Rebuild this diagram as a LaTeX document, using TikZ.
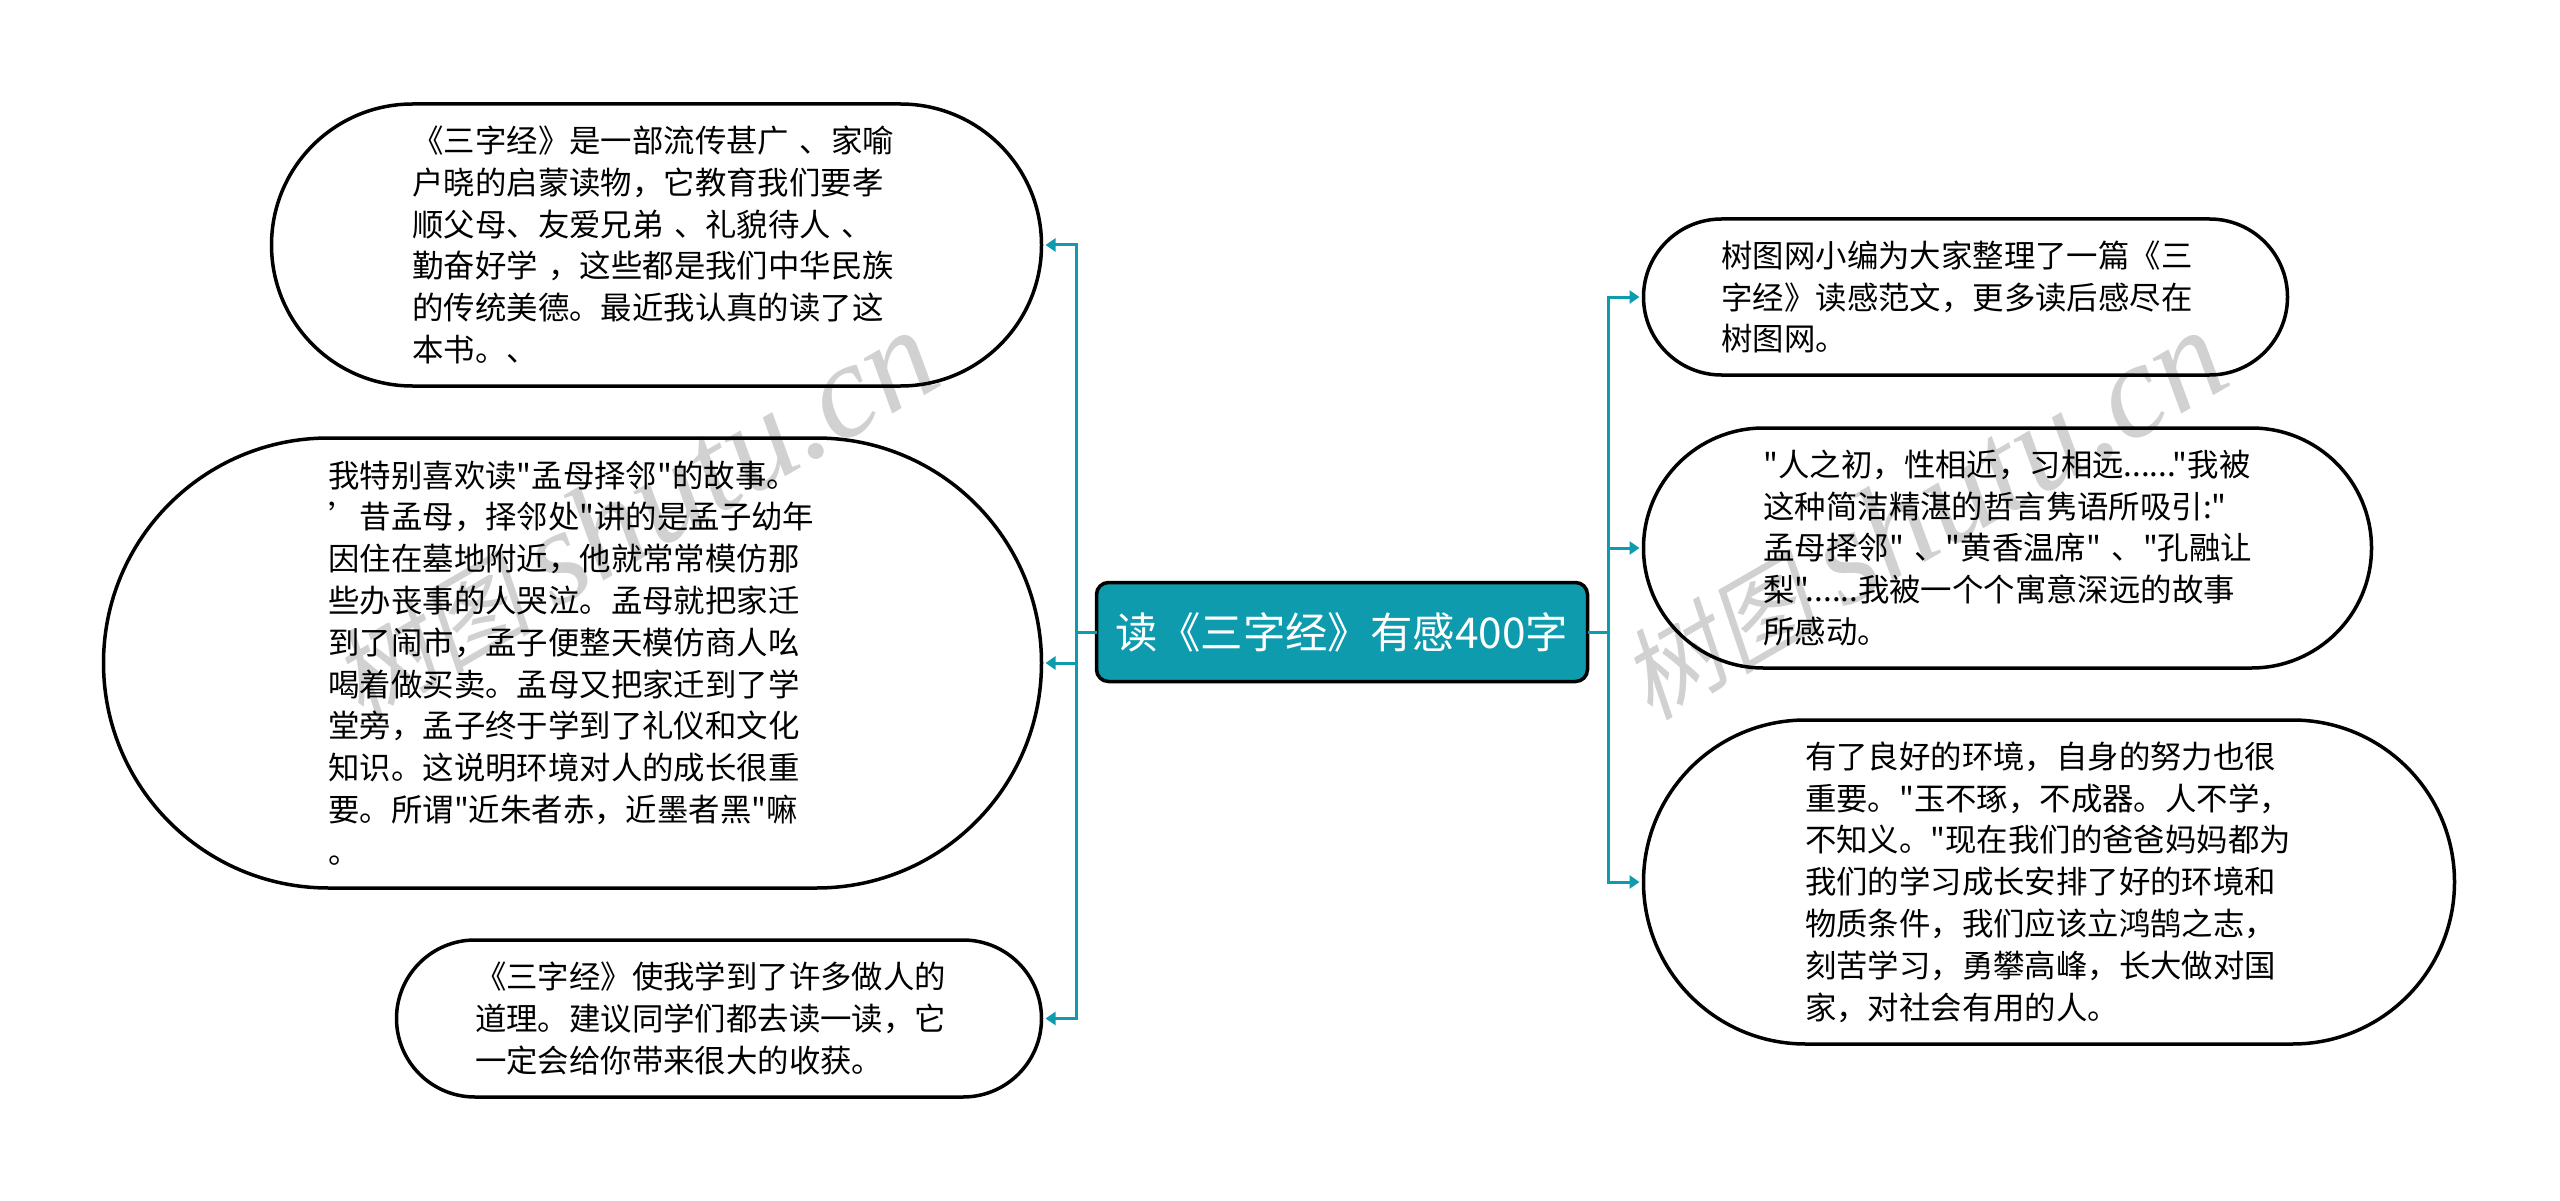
\documentclass[tikz,border=0pt]{standalone}
\usepackage{fontspec}
\setmainfont[Ligatures=TeXOff]{Noto Sans CJK SC}
\newfontfamily\markcjk[FakeSlant=0.2]{Noto Sans CJK SC}
\newfontfamily\marklatin[ItalicFont=Liberation Serif Italic]{Liberation Serif}
\usepackage{xcolor}
\usetikzlibrary{positioning}
\usetikzlibrary{arrows.meta}
\definecolor{teal1}{RGB}{14,155,173}
\begin{document}
\begin{tikzpicture}[>={Triangle[length=10pt,width=13pt]},
main/.style = {draw=black, fill=teal1, text=white, line width=3.5pt, rounded corners=12pt, minimum width=491pt, minimum height=99pt, inner sep=0pt, outer sep=0pt, font=\fontsize{42.4}{50}\selectfont},
leaf/.style = {draw=black, line width=3.5pt, minimum height=#1, rounded corners=#1/2, inner sep=0pt, outer sep=0pt, text width=488pt, align=left, font=\fontsize{31.4}{41.8}\selectfont},
twig/.style = {->, draw=teal1, line width=3pt, shorten >=4pt, to path={-- ++(#1,0) |- (\tikztotarget)}},
wmark/.style = {rotate=30, text=black, opacity=0.18, inner sep=0pt}]
\path[use as bounding box] (0,0) rectangle (2560pt,-1201pt);
\node[main] (root) at (1342pt,-632pt) {读《三字经》有感400字};
\node[leaf=282pt, minimum width=770pt] (l1) [left=55pt of root, yshift=387pt] {《三字经》是一部流传甚广~、家喻\\户晓的启蒙读物，它教育我们要孝\\顺父母、友爱兄弟~、礼貌待人~、\\勤奋好学~，这些都是我们中华民族\\的传统美德。最近我认真的读了这\\本书。、};
\node[leaf=450pt, minimum width=938pt] (l2) [left=55pt of root, yshift=-31pt] {我特别喜欢读"孟母择邻"的故事。\\’昔孟母，择邻处"讲的是孟子幼年\\因住在墓地附近，他就常常模仿那\\些办丧事的人哭泣。孟母就把家迁\\到了闹市，孟子便整天模仿商人吆\\喝着做买卖。孟母又把家迁到了学\\堂旁，孟子终于学到了礼仪和文化\\知识。这说明环境对人的成长很重\\要。所谓"近朱者赤，近墨者黑"嘛\\。};
\node[leaf=157pt, minimum width=645pt] (l3) [left=55pt of root, yshift=-386.5pt] {《三字经》使我学到了许多做人的\\道理。建议同学们都去读一读，它\\一定会给你带来很大的收获。};
\node[leaf=156pt, minimum width=644pt] (r1) [right=56pt of root, yshift=335pt] {树图网小编为大家整理了一篇《三\\字经》读感范文，更多读后感尽在\\树图网。};
\node[leaf=240pt, minimum width=728pt] (r2) [right=56pt of root, yshift=84pt] {"人之初，性相近，习相远......"我被\\这种简洁精湛的哲言隽语所吸引:"\\孟母择邻"~、"黄香温席"~、"孔融让\\梨"......我被一个个寓意深远的故事\\所感动。};
\node[leaf=324pt, minimum width=811pt] (r3) [right=56pt of root, yshift=-250pt] {有了良好的环境，自身的努力也很\\重要。"玉不琢，不成器。人不学，\\不知义。"现在我们的爸爸妈妈都为\\我们的学习成长安排了好的环境和\\物质条件，我们应该立鸿鹄之志，\\刻苦学习，勇攀高峰，长大做对国\\家，对社会有用的人。};
\path (root.west) edge [twig=-20pt] (l1.east);
\path (root.west) edge [twig=-20pt] (l2.east);
\path (root.west) edge [twig=-20pt] (l3.east);
\path (root.east) edge [twig=21pt] (r1.west);
\path (root.east) edge [twig=21pt] (r2.west);
\path (root.east) edge [twig=21pt] (r3.west);
\node[wmark] (mark1) at (633pt,-515pt) {\fontsize{100}{100}\markcjk 树图 \fontsize{135}{135}\marklatin\itshape shutu.cn};
\node[wmark] (mark2) at (1922pt,-515pt) {\fontsize{100}{100}\markcjk 树图 \fontsize{135}{135}\marklatin\itshape shutu.cn};
\end{tikzpicture}
\end{document}
